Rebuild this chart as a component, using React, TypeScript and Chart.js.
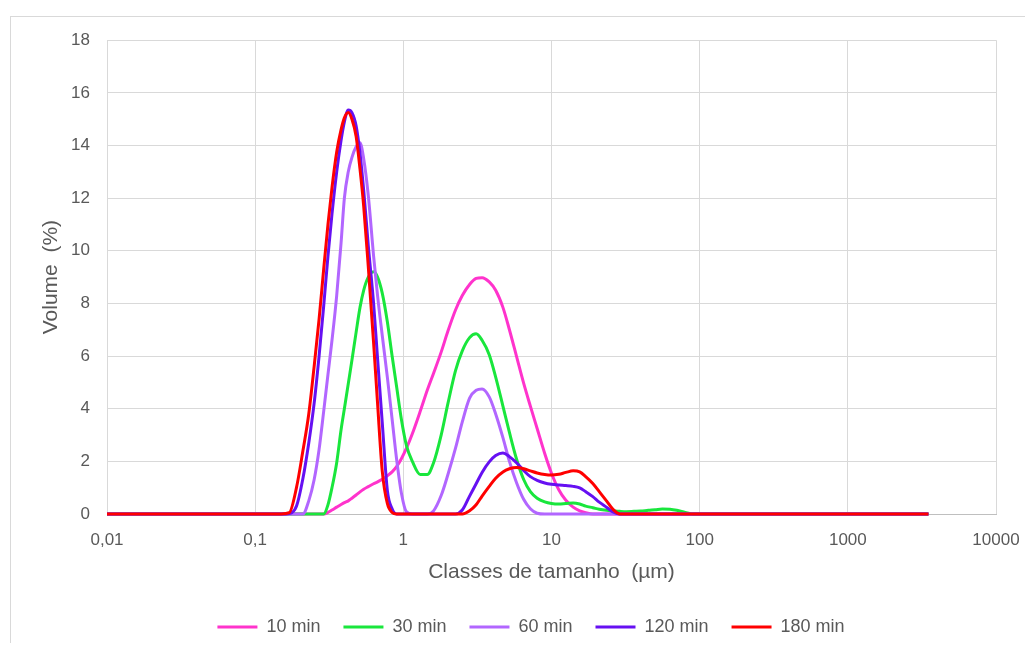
import React, { useEffect, useRef } from "react";
import { Chart, registerables } from "chart.js";

Chart.register(...registerables);

// Size classes (µm)
const SIZES = [
  0.01, 0.1, 0.15, 0.17, 0.19, 0.21, 0.23, 0.25, 0.27, 0.29,
  0.31, 0.33, 0.355, 0.38, 0.40, 0.425, 0.45, 0.48, 0.51, 0.54,
  0.58, 0.63, 0.67, 0.72, 0.78, 0.84, 0.9, 0.97, 1.05, 1.15,
  1.3, 1.45, 1.6, 1.8, 2.0, 2.25, 2.5, 2.8, 3.1, 3.4,
  3.8, 4.2, 4.7, 5.2, 5.8, 6.5, 7.2, 8, 9, 10,
  11.2, 12.5, 14, 15.5, 17, 19, 21, 23.5, 26, 29,
  32, 36, 40, 45, 50, 56, 63, 70, 80, 90,
  100, 200, 500, 1000, 3500,
];

// Volume (%) per series
const MIN10 = [
  0, 0, 0, 0, 0, 0, 0, 0, 0, 0,
  0.06, 0.15, 0.26, 0.36, 0.43, 0.5, 0.6, 0.72, 0.84, 0.94,
  1.04, 1.15, 1.22, 1.32, 1.45, 1.6, 1.8, 2.1, 2.5, 3.05,
  3.9, 4.7, 5.35, 6.15, 6.95, 7.75, 8.3, 8.72, 8.95, 8.98,
  8.82, 8.5, 7.85, 7.0, 6.0, 4.95, 4.1, 3.25, 2.3, 1.55,
  0.92, 0.52, 0.26, 0.12, 0.05, 0, 0, 0, 0, 0,
  0, 0, 0, 0, 0, 0, 0, 0, 0, 0,
  0, 0, 0, 0, 0,
];
const MIN30 = [
  0, 0, 0, 0, 0, 0, 0, 0, 0, 0,
  0.35, 1.0, 1.95, 3.2, 4.0, 4.95, 5.85, 6.9, 7.85, 8.5,
  9.0, 9.2, 9.0, 8.4, 7.3, 6.0, 4.85, 3.6, 2.6, 2.0,
  1.5, 1.5, 1.95, 3.0, 4.2, 5.45, 6.2, 6.7, 6.85, 6.6,
  6.05, 5.2, 4.1, 3.1, 2.1, 1.3, 0.85, 0.6, 0.46, 0.4,
  0.38, 0.4, 0.42, 0.38, 0.3, 0.24, 0.18, 0.14, 0.12, 0.1,
  0.09, 0.1, 0.11, 0.14, 0.16, 0.19, 0.18, 0.14, 0.06, 0,
  0, 0, 0, 0, 0,
];
const MIN60 = [
  0, 0, 0, 0, 0, 0, 0.5, 1.3, 2.45, 3.9,
  5.3, 6.6, 8.3, 10.3, 12.0, 13.0, 13.55, 13.95, 14.1, 13.5,
  12.1, 9.8, 8.3, 6.8, 5.2, 3.6, 2.1, 0.8, 0.08, 0,
  0, 0, 0.12, 0.7, 1.5, 2.5, 3.5, 4.4, 4.7, 4.75,
  4.45, 3.8, 2.9, 2.0, 1.2, 0.55, 0.2, 0.03, 0, 0,
  0, 0, 0, 0, 0, 0, 0, 0, 0, 0,
  0, 0, 0, 0, 0, 0, 0, 0, 0, 0,
  0, 0, 0, 0, 0,
];
const MIN120 = [
  0, 0, 0, 0.02, 0.3, 1.35, 2.7, 4.2, 6.0, 7.9,
  9.8, 11.4, 13.0, 14.2, 14.9, 15.35, 15.25, 14.75, 13.7, 12.3,
  10.2, 8.0, 5.9, 3.5, 0.9, 0.2, 0, 0, 0, 0,
  0, 0, 0, 0, 0, 0, 0.15, 0.68, 1.15, 1.58,
  1.98, 2.22, 2.32, 2.18, 1.95, 1.65, 1.42, 1.28, 1.18, 1.13,
  1.1, 1.08, 1.05, 0.99, 0.85, 0.66, 0.45, 0.26, 0.08, 0,
  0, 0, 0, 0, 0, 0, 0, 0, 0, 0,
  0, 0, 0, 0, 0,
];
const MIN180 = [
  0, 0, 0, 0.05, 1.0, 2.4, 3.8, 5.6, 7.4, 9.3,
  11.0, 12.4, 13.75, 14.6, 15.05, 15.25, 15.0, 14.35, 13.1, 11.7,
  9.4, 6.5, 4.2, 1.65, 0.4, 0.06, 0, 0, 0, 0,
  0, 0, 0, 0, 0, 0, 0, 0.12, 0.35, 0.68,
  1.05, 1.36, 1.6, 1.72, 1.77, 1.72, 1.64, 1.56, 1.5, 1.48,
  1.51, 1.58, 1.64, 1.6, 1.42, 1.16, 0.85, 0.5, 0.18, 0,
  0, 0, 0, 0, 0, 0, 0, 0, 0, 0,
  0, 0, 0, 0, 0,
];

const SERIES_LABELS = ["10 min", "30 min", "60 min", "120 min", "180 min"];
const SERIES_COLORS = ["#ff33cc", "#19e63c", "#b266ff", "#6610f2", "#ff0000"];

const X_TICKS = [0.01, 0.1, 1, 10, 100, 1000, 10000];
const X_TICK_LABELS = ["0,01", "0,1", "1", "10", "100", "1000", "10000"];

const X_TITLE = "Classes de tamanho  (µm)";
const Y_TITLE = "Volume  (%)";

const FONT = "'Liberation Sans', Arial, sans-serif";
const TEXT = "#595959";
const GRID = "#d9d9d9";

export default function App() {
  const ref = useRef<HTMLCanvasElement>(null);

  useEffect(() => {
    const series = [MIN10, MIN30, MIN60, MIN120, MIN180];
    const chart = new Chart(ref.current as HTMLCanvasElement, {
      type: "line",
      data: {
        datasets: series.map((vals, i) => ({
          label: SERIES_LABELS[i],
          data: SIZES.map((x, j) => ({ x, y: vals[j] })),
          borderColor: SERIES_COLORS[i],
          backgroundColor: SERIES_COLORS[i],
          borderWidth: 3,
          pointRadius: 0,
          pointHoverRadius: 0,
          cubicInterpolationMode: "monotone",
          fill: false,
          clip: false,
          order: series.length - 1 - i,
        })),
      },
      options: {
        responsive: false,
        animation: false,
        layout: { padding: { top: 10, left: 0, right: 0, bottom: 5 } },
        plugins: {
          tooltip: { enabled: false },
          legend: {
            position: "bottom",
            labels: {
              boxWidth: 40,
              boxHeight: 3,
              padding: 23,
              color: TEXT,
              font: { family: FONT, size: 18 },
              sort: (a: any, b: any) => a.datasetIndex - b.datasetIndex,
              generateLabels: (c: any) =>
                Chart.defaults.plugins.legend.labels
                  .generateLabels(c)
                  .map((l: any) => ({ ...l, lineWidth: 0 })),
            },
          },
        },
        scales: {
          x: {
            type: "logarithmic",
            min: 0.01,
            max: 10000,
            afterBuildTicks: (s: any) => {
              s.ticks = X_TICKS.map((v) => ({ value: v }));
            },
            afterFit: (s: any) => {
              s.height = 81;
            },
            ticks: {
              autoSkip: false,
              maxRotation: 0,
              padding: 16,
              color: TEXT,
              font: { family: FONT, size: 17 },
              callback: (_v: any, i: number) => X_TICK_LABELS[i],
            },
            grid: { color: GRID, drawTicks: false },
            border: { color: "#bfbfbf" },
            title: {
              display: true,
              text: X_TITLE,
              color: TEXT,
              font: { family: FONT, size: 21 },
              padding: { top: 0, bottom: 10 },
            },
          },
          y: {
            min: 0,
            max: 18,
            afterFit: (s: any) => {
              s.width = 97;
            },
            ticks: {
              stepSize: 2,
              padding: 17,
              color: TEXT,
              font: { family: FONT, size: 17 },
            },
            grid: { color: GRID, drawTicks: false },
            border: { color: GRID },
            title: {
              display: true,
              text: Y_TITLE,
              color: TEXT,
              font: { family: FONT, size: 21 },
              padding: { top: 29, bottom: 0 },
            },
          },
          y2: {
            position: "right",
            display: true,
            grid: { display: false, drawTicks: false },
            border: { display: false },
            ticks: { display: false },
            afterFit: (s: any) => {
              s.width = 56;
            },
          },
        },
      },
    } as any);
    return () => chart.destroy();
  }, []);

  return (
    <div
      style={{
        position: "relative",
        width: 1033,
        height: 651,
        margin: -8,
        overflow: "hidden",
        background: "#ffffff",
      }}
    >
      <div
        style={{
          position: "absolute",
          left: 10,
          top: 16,
          width: 1100,
          height: 700,
          border: "1px solid #d9d9d9",
          boxSizing: "border-box",
        }}
      />
      <canvas
        ref={ref}
        width={1042}
        height={638}
        style={{ position: "absolute", left: 10, top: 13, width: 1042, height: 638 }}
      />
    </div>
  );
}
